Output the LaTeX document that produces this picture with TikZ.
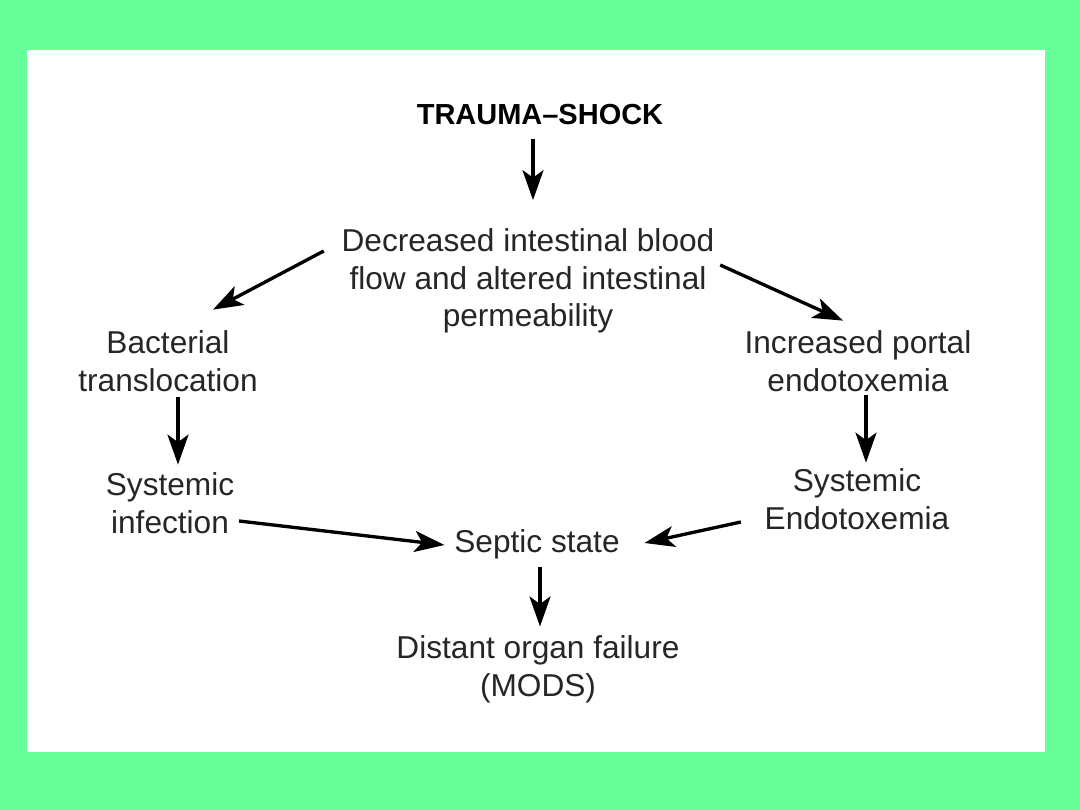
\documentclass[tikz,border=0pt]{standalone}
\usepackage{fontspec}
\setmainfont{Liberation Sans}
\usepackage{tikz}
\usetikzlibrary{positioning,arrows.meta,calc}
\definecolor{slideGreen}{RGB}{102,255,153}
\tikzset{
  lbl/.style={align=center,font=\fontsize{18}{21.5}\selectfont,text=black!85,inner sep=2pt},
  title/.style={lbl,font=\fontsize{16.5}{21.5}\selectfont\bfseries,text=black},
  arrow/.style={-{Stealth[length=6mm,width=4.2mm,inset=1.5mm]},draw=black,line width=1.9pt}
}

\begin{document}
\begin{tikzpicture}[x=0.02cm,y=-0.02cm]
  \fill[slideGreen] (0,0) rectangle (1080,810);
  \fill[white] (27,50) rectangle (1045,752);

  \node[title] (trauma) at (540,115) {TRAUMA--SHOCK};
  \node[lbl] (dec) at (528,281) {Decreased intestinal blood\\flow and altered intestinal\\permeability};
  \node[lbl] (bact) at (168,361) {Bacterial\\translocation};
  \node[lbl] (portal) at (858,361) {Increased portal\\endotoxemia};
  \node[lbl] (sysinf) at (170,503) {Systemic\\infection};
  \node[lbl] (sysendo) at (857,499) {Systemic\\Endotoxemia};
  \node[lbl] (septic) at (537,544) {Septic state};
  \node[lbl] (organ) at (538,669) {Distant organ failure\\(MODS)};

  \draw[arrow] ($(trauma.south)+(-7,10)$) -- ($(trauma.south)+(-7,71)$);
  \draw[arrow] ($(dec.west)+(-14,-30)$) -- ($(bact.north)+(45,-17)$);
  \draw[arrow] ($(dec.east)+(2,-16)$) -- ($(portal.north)+(-15,-6)$);
  \draw[arrow] ($(bact.south)+(10,2)$) -- ($(sysinf.north)+(8,-4)$);
  \draw[arrow] ($(portal.south)+(8,0)$) -- ($(sysendo.north)+(9,-2)$);
  \draw[arrow] ($(sysinf.east)+(1,18)$) -- ($(septic.west)+(-6,1)$);
  \draw[arrow] ($(sysendo.west)+(-20,23)$) -- ($(septic.east)+(21,-1)$);
  \draw[arrow] ($(septic.south)+(3,4)$) -- ($(organ.north)+(2,-5)$);
\end{tikzpicture}
\end{document}
